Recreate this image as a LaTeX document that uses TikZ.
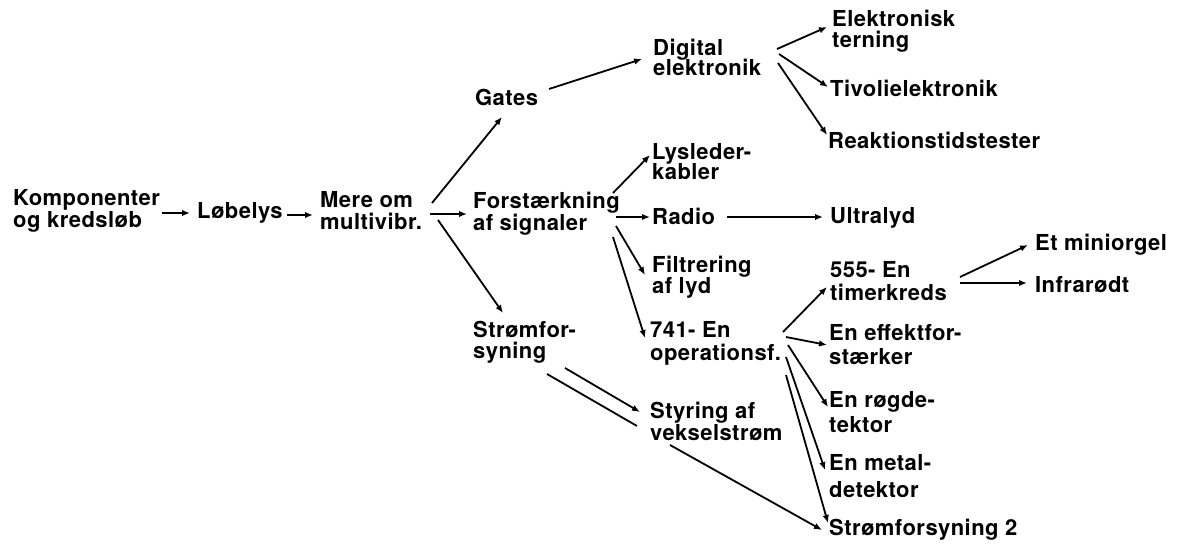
\documentclass[tikz,border=0pt]{standalone}
\usepackage{fontspec}
\setmainfont{TeX Gyre Heros}[LetterSpace=2]
\usetikzlibrary{arrows.meta}
\begin{document}
\begin{tikzpicture}[x=1pt,y=-1pt,
  lbl/.style={anchor=west,inner sep=0pt,align=left,font=\fontsize{22}{22}\selectfont\bfseries},
  arr/.style={line width=1.8pt,-{Latex[length=8pt,width=6.5pt]}},
  ln/.style={line width=1.8pt}]
\useasboundingbox[fill=white] (0,0) rectangle (1177,545);
% nodes
\node[lbl] (komp) at (13,211) {Komponenter\\og kredsløb};
\node[lbl] (lob) at (197,213) {Løbelys};
\node[lbl] (mere) at (320,211) {Mere om\\multivibr.};
\node[lbl] (gates) at (475,97) {Gates};
\node[lbl] (dig) at (653,57) {Digital\\[-2pt]elektronik};
\node[lbl] (elek) at (832,31) {Elektronisk\\[-0.5pt]terning};
\node[lbl] (tivoli) at (830,88) {Tivolielektronik};
\node[lbl] (reak) at (828,140) {Reaktionstidstester};
\node[lbl] (forst) at (473,214) {Forstærkning\\af signaler};
\node[lbl] (lys) at (652,162) {Lysleder-\\[-2pt]kabler};
\node[lbl] (radio) at (652,216) {Radio};
\node[lbl] (ultra) at (830,218) {Ultralyd};
\node[lbl] (filt) at (652,277) {Filtrering\\[-1pt]af lyd};
\node[lbl] (op741) at (650,343) {741- En\\[1pt]operationsf.};
\node[lbl] (t555) at (830,281) {555- En\\[1pt]timerkreds};
\node[lbl] (mini) at (1035,245) {Et miniorgel};
\node[lbl] (infra) at (1035,285) {Infrarødt};
\node[lbl] (effekt) at (829,345) {En effektfor-\\[2pt]stærker};
\node[lbl] (rog) at (829,412) {En røgde-\\[3pt]tektor};
\node[lbl] (metal) at (829,476) {En metal-\\[5pt]detektor};
\node[lbl] (s2) at (829,530) {Strømforsyning 2};
\node[lbl] (strom) at (473,342) {Strømfor-\\[-1pt]syning};
\node[lbl] (styr) at (650,421) {Styring af\\vekselstrøm};
% connectors
\draw[arr] ([shift={(149,2)}]komp.west) -- ([shift={(-7,0)}]lob.west);
\draw[arr] ([shift={(90,2)}]lob.west) -- ([shift={(-7,4)}]mere.west);
\draw[arr] ([shift={(112,-8)}]mere.west) -- ([shift={(27,20)}]gates.west);
\draw[arr] ([shift={(110,3)}]mere.west) -- ([shift={(-6,0)}]forst.west);
\draw[arr] ([shift={(118,9)}]mere.west) -- ([shift={(30,-29)}]strom.west);
\draw[arr] ([shift={(74,-8)}]gates.west) -- ([shift={(-11,2)}]dig.west);
\draw[arr] ([shift={(124,-8)}]dig.west) -- ([shift={(-5,-4)}]elek.west);
\draw[arr] ([shift={(126,-3)}]dig.west) -- ([shift={(-2,-1)}]tivoli.west);
\draw[arr] ([shift={(125,6)}]dig.west) -- ([shift={(-1,-5)}]reak.west);
\draw[arr] ([shift={(140,-21)}]forst.west) -- ([shift={(-2,-7)}]lys.west);
\draw[arr] ([shift={(143,3)}]forst.west) -- ([shift={(-2,1)}]radio.west);
\draw[arr] ([shift={(143,12)}]forst.west) -- ([shift={(-7,-2)}]filt.west);
\draw[arr] ([shift={(140,23)}]forst.west) -- ([shift={(-5,-5)}]op741.west);
\draw[arr] ([shift={(75,1)}]radio.west) -- ([shift={(-7,-1)}]ultra.west);
\draw[arr] ([shift={(133,-11)}]op741.west) -- ([shift={(-3,6)}]t555.west);
\draw[arr] ([shift={(136,-6)}]op741.west) -- ([shift={(-2,0)}]effekt.west);
\draw[arr] ([shift={(138,2)}]op741.west) -- ([shift={(-1,-5)}]rog.west);
\draw[arr] ([shift={(136,14)}]op741.west) -- ([shift={(-4,-6)}]metal.west);
\draw[arr] ([shift={(136,32)}]op741.west) -- ([shift={(-1,-7)}]s2.west);
\draw[arr] ([shift={(130,-4)}]t555.west) -- ([shift={(-7,0)}]mini.west);
\draw[arr] ([shift={(130,2)}]t555.west) -- ([shift={(-8,-2)}]infra.west);
\draw[arr] ([shift={(92,26)}]strom.west) -- ([shift={(-10,-9)}]styr.west);
\coordinate (gapA) at ([shift={(-13,5)}]styr.west);
\coordinate (gapB) at ([shift={(20,24)}]styr.west);
\draw[ln] ([shift={(74,32)}]strom.west) -- (gapA);
\draw[arr] (gapB) -- ([shift={(-7,0)}]s2.west);
\end{tikzpicture}
\end{document}
